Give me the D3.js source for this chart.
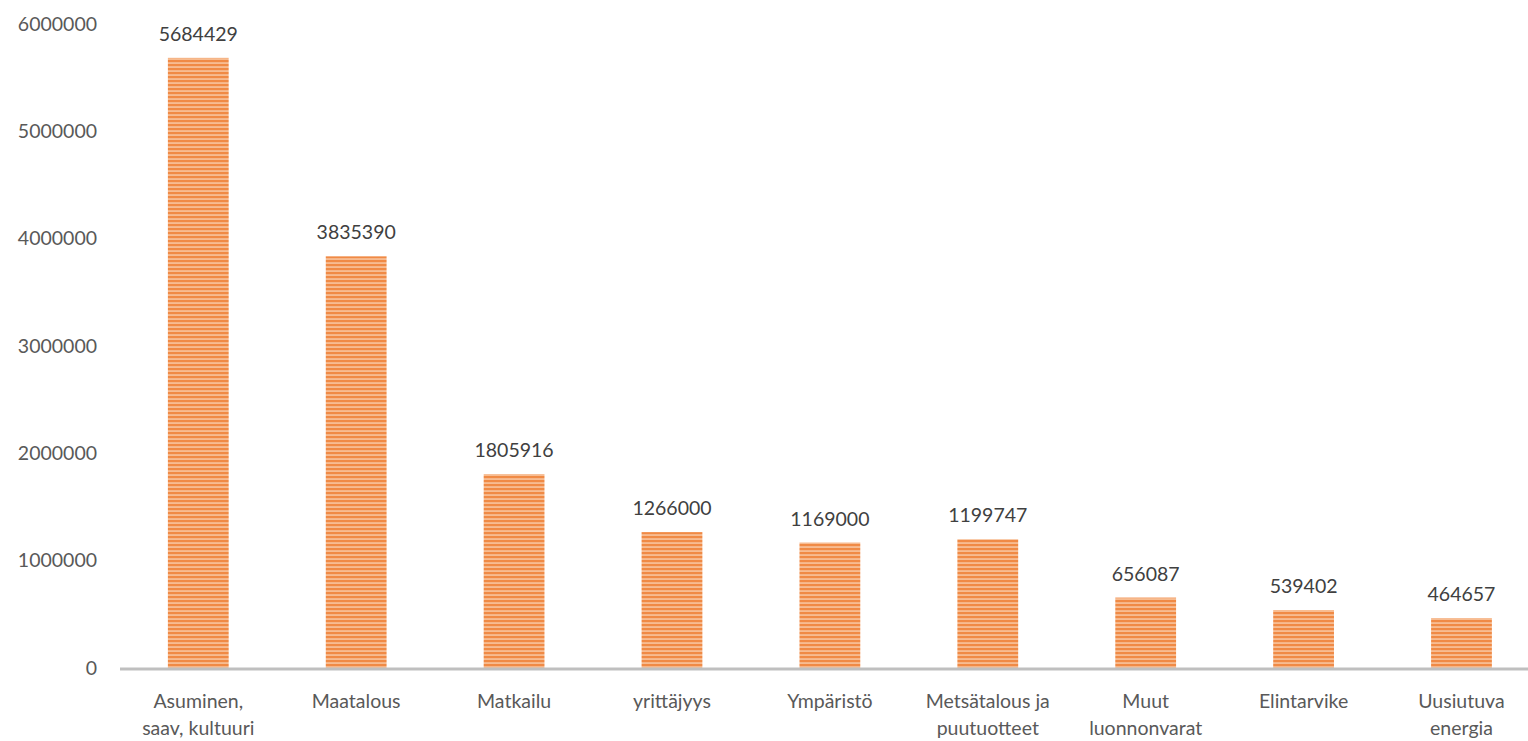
<!DOCTYPE html>
<html>
<head>
<meta charset="utf-8">
<script src="https://cdn.jsdelivr.net/npm/d3@7"></script>
<style>
  body { margin: 0; background: #fff; }
  svg { display: block; font-family: Lato, "Open Sans", sans-serif; }
</style>
</head>
<body>
<div id="chart"></div>
<script>
const categories = [
    ['Asuminen,', 'saav, kultuuri'],
    ['Maatalous'],
    ['Matkailu'],
    ['yrittäjyys'],
    ['Ympäristö'],
    ['Metsätalous ja', 'puutuotteet'],
    ['Muut', 'luonnonvarat'],
    ['Elintarvike'],
    ['Uusiutuva', 'energia']
];
const values = [5684429, 3835390, 1805916, 1266000, 1169000, 1199747, 656087, 539402, 464657];
const yTicks = [0, 1000000, 2000000, 3000000, 4000000, 5000000, 6000000];

const width = 1528, height = 741;
const margin = {top: 24, right: 0, bottom: 73, left: 120};

const svg = d3.select('#chart')
    .append('svg')
    .attr('width', width)
    .attr('height', height);

// Stripe pattern for bars
const defs = svg.append('defs');
const pat = defs.append('pattern')
    .attr('id', 'stripes')
    .attr('patternUnits', 'userSpaceOnUse')
    .attr('width', 8)
    .attr('height', 4);
pat.append('rect').attr('width', 8).attr('height', 4).attr('fill', '#f08a45');
pat.append('rect').attr('y', 2.4).attr('width', 8).attr('height', 1.3).attr('fill', '#fbd2b2');

const x = d3.scaleBand()
    .domain(d3.range(categories.length))
    .range([margin.left, width - margin.right])
    .paddingInner(0.615)
    .paddingOuter(0.266)
    .align(0.57);

const y = d3.scaleLinear()
    .domain([0, 6000000])
    .range([height - margin.bottom, margin.top]);

// Y tick labels
svg.append('g')
    .selectAll('text')
    .data(yTicks)
    .enter()
    .append('text')
    .attr('x', 97)
    .attr('y', d => y(d))
    .attr('dy', '0.35em')
    .attr('text-anchor', 'end')
    .attr('font-size', '19.5px')
    .attr('fill', '#595959')
    .text(d => d);

// Bars
svg.selectAll('.bar')
    .data(values)
    .enter()
    .append('rect')
    .attr('class', 'bar')
    .attr('x', (d, i) => x(i))
    .attr('y', d => y(d))
    .attr('width', x.bandwidth())
    .attr('height', d => y(0) - y(d))
    .attr('fill', 'url(#stripes)');

// Value labels
svg.selectAll('.val')
    .data(values)
    .enter()
    .append('text')
    .attr('class', 'val')
    .attr('x', (d, i) => x(i) + x.bandwidth() / 2)
    .attr('y', d => y(d) - 17)
    .attr('text-anchor', 'middle')
    .attr('font-size', '19.5px')
    .attr('fill', '#404040')
    .text(d => d);

// X axis line
svg.append('line')
    .attr('x1', margin.left)
    .attr('x2', width)
    .attr('y1', y(0) + 1)
    .attr('y2', y(0) + 1)
    .attr('stroke', '#bfbfbf')
    .attr('stroke-width', 3);

// Category labels
const cat = svg.selectAll('.cat')
    .data(categories)
    .enter()
    .append('text')
    .attr('class', 'cat')
    .attr('x', (d, i) => x(i) + x.bandwidth() / 2)
    .attr('y', y(0) + 40)
    .attr('text-anchor', 'middle')
    .attr('font-size', '19.5px')
    .attr('fill', '#595959');
cat.selectAll('tspan')
    .data(d => d)
    .enter()
    .append('tspan')
    .attr('x', function() { return d3.select(this.parentNode).attr('x'); })
    .attr('dy', (d, i) => i === 0 ? 0 : 27)
    .text(d => d);
</script>
</body>
</html>
